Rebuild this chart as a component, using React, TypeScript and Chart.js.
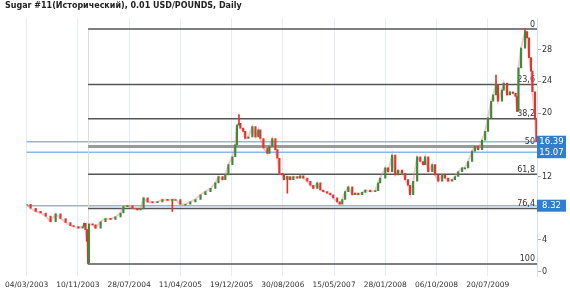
import React, { useEffect, useRef } from "react";
import { Chart, registerables } from "chart.js";

Chart.register(...registerables);

const days = [
  0, 14, 32, 49, 67, 84, 102, 119, 137, 154,
  165, 182, 197, 202, 207, 212, 216, 219, 232, 242,
  260, 277, 295, 312, 330, 340, 354, 372, 389, 400,
  411, 425, 442, 460, 477, 495, 512, 523, 540, 558,
  575, 593, 611, 628, 646, 663, 674, 688, 698, 709,
  723, 733, 739, 746, 751, 761, 768, 779, 793, 804,
  814, 821, 832, 846, 853, 863, 874, 881, 888, 898,
  904, 916, 926, 937, 951, 961, 972, 986, 997, 1007,
  1021, 1032, 1042, 1056, 1067, 1077, 1091, 1100, 1109, 1119,
  1130, 1144, 1154, 1165, 1179, 1190, 1207, 1225, 1235, 1242,
  1260, 1270, 1284, 1295, 1305, 1319, 1330, 1340, 1347, 1358,
  1372, 1383, 1393, 1400, 1411, 1425, 1435, 1446, 1460, 1470,
  1481, 1495, 1505, 1516, 1530, 1540, 1551, 1565, 1575, 1586,
  1600, 1611, 1621, 1632, 1639, 1649, 1656, 1670, 1676, 1688,
  1698, 1709, 1718, 1723, 1728, 1737, 1751, 1758, 1765, 1772,
  1777, 1786, 1791,
];

// closing prices at those bars
const closes = [
  8.5, 8.0, 7.6, 7.4, 7.0, 6.3, 7.3, 6.7, 6.2, 5.8,
  5.7, 5.5, 5.7, 6.1, 5.3, 3.8, 1.1, 6.0, 5.9, 5.5,
  6.3, 6.7, 6.6, 6.9, 7.4, 8.2, 8.3, 8.0, 7.8, 7.9,
  9.3, 8.8, 8.7, 8.8, 9.1, 9.0, 9.1, 9.1, 8.5, 8.5,
  8.8, 9.1, 9.7, 10.1, 10.5, 11.2, 12.0, 11.6, 12.2, 13.5,
  14.5, 16.0, 18.5, 18.7, 18.1, 17.7, 16.8, 17.0, 18.3, 17.0,
  17.9, 16.8, 15.6, 14.9, 15.8, 16.8, 15.4, 14.3, 12.4, 12.2,
  11.6, 12.0, 11.6, 12.0, 11.8, 12.1, 11.8, 11.4, 10.9, 10.5,
  11.2, 10.3, 10.1, 9.9, 9.7, 9.3, 8.8, 8.5, 9.1, 10.1,
  10.7, 9.7, 9.9, 9.7, 10.0, 10.3, 10.1, 10.2, 11.2, 11.8,
  13.1, 12.6, 14.7, 12.2, 12.8, 12.4, 11.6, 10.9, 9.7, 11.4,
  14.5, 13.9, 13.5, 14.5, 12.6, 13.5, 12.2, 11.4, 12.2, 11.8,
  11.4, 11.6, 12.0, 12.6, 13.1, 13.1, 13.9, 15.2, 15.8, 15.4,
  16.6, 17.7, 19.4, 21.5, 22.3, 23.6, 21.5, 22.9, 23.8, 22.3,
  22.7, 22.5, 22.1, 20.2, 25.7, 28.2, 30.3, 29.5, 27.0, 25.3,
  22.7, 19.2, 16.4,
];

// visible wick spikes
const spikeDays = [216, 512, 746, 916, 1649, 1751];
const spikeLows = [0.97, 7.6, 18.5, 9.9, 23.6, 29.5];
const spikeHighs = [3.8, 9.1, 19.8, 12.0, 24.8, 30.6];

const xTickDays = [0, 180, 360, 540, 720, 900, 1080, 1260, 1440, 1620];
const xTickLabels = [
  "04/03/2003", "10/11/2003", "28/07/2004", "11/04/2005", "19/12/2005",
  "30/08/2006", "15/05/2007", "28/01/2008", "06/10/2008", "20/07/2009",
];
const yTicks = [0, 4, 8, 12, 16, 20, 24, 28];

const fibLevels = [0, 23.6, 38.2, 50, 61.8, 76.4, 100];
const fibLabels = ["0", "23,6", "38,2", "50", "61,8", "76,4", "100"];
const fibHigh = 30.6;
const fibLow = 0.97;
const fibStartDay = 216;

const priceLines = [16.39, 15.07, 8.32];
const priceLabels = ["16.39", "15.07", "8.32"];

const TITLE = "Sugar #11(Исторический), 0.01 USD/POUNDS, Daily";
const UP = "#3d8a3d";
const DOWN = "#e2342c";

const opens = closes.map((c, i) => (i === 0 ? c : closes[i - 1]));
const bodyData = days.map((d, i) => ({
  x: d,
  y: [Math.min(opens[i], closes[i]), Math.max(opens[i], closes[i])],
}));
const bodyColors = closes.map((c, i) => (c >= opens[i] ? UP : DOWN));
const wickData = spikeDays.map((d, i) => ({ x: d, y: [spikeLows[i], spikeHighs[i]] }));
const pathData = days.map((d, i) => ({ x: d, y: closes[i] }));

const overlay = {
  id: "overlay",
  beforeDatasetsDraw(chart: any) {
    const { ctx, chartArea, scales } = chart;
    const x = scales.x;
    const y = scales.y;
    ctx.save();
    priceLines.forEach((v) => {
      const py = y.getPixelForValue(v);
      ctx.strokeStyle = "#8cb8e6";
      ctx.lineWidth = 1.5;
      ctx.beginPath();
      ctx.moveTo(chartArea.left, py);
      ctx.lineTo(chartArea.right, py);
      ctx.stroke();
    });
    const x0 = x.getPixelForValue(fibStartDay);
    ctx.strokeStyle = "#dedede";
    ctx.lineWidth = 1;
    ctx.beginPath();
    ctx.moveTo(Math.round(x0) + 0.5, y.getPixelForValue(fibHigh));
    ctx.lineTo(Math.round(x0) + 0.5, y.getPixelForValue(fibLow));
    ctx.stroke();
    ctx.font = "8px 'DejaVu Sans'";
    ctx.textAlign = "right";
    ctx.textBaseline = "alphabetic";
    fibLevels.forEach((lv, i) => {
      const v = fibHigh - ((fibHigh - fibLow) * lv) / 100;
      const py = y.getPixelForValue(v);
      ctx.strokeStyle = lv === 50 ? "#9a9a9a" : "#555";
      ctx.lineWidth = lv === 50 ? 3 : 1.5;
      ctx.beginPath();
      ctx.moveTo(x0, py);
      ctx.lineTo(chartArea.right, py);
      ctx.stroke();
      ctx.fillStyle = "#333";
      ctx.fillText(fibLabels[i], chartArea.right - 2, py - 2.5);
    });
    ctx.restore();
  },
  afterDraw(chart: any) {
    const { ctx, chartArea, scales } = chart;
    const y = scales.y;
    ctx.save();
    ctx.font = "8.5px 'DejaVu Sans'";
    ctx.textAlign = "center";
    ctx.textBaseline = "middle";
    priceLines.forEach((v) => {
      const py = y.getPixelForValue(v);
      ctx.fillStyle = "#2e7fd1";
      ctx.fillRect(chartArea.right, py - 6, 29, 12);
    });
    priceLines.forEach((v, i) => {
      const py = y.getPixelForValue(v);
      ctx.fillStyle = "#ffffff";
      ctx.fillText(priceLabels[i], chartArea.right + 14.5, py + 0.5);
    });
    ctx.font = "bold 8px 'DejaVu Sans'";
    ctx.textAlign = "left";
    ctx.fillStyle = "#222";
    ctx.fillText(TITLE, 5, 6);
    ctx.restore();
  },
};

export default function App() {
  const ref = useRef<HTMLCanvasElement>(null);
  useEffect(() => {
    document.body.style.margin = "0";
    const chart = new Chart(ref.current as HTMLCanvasElement, {
      type: "bar",
      data: {
        datasets: [
          {
            type: "line",
            data: pathData as any,
            borderColor: "rgba(235,130,130,0.45)",
            borderWidth: 2,
            pointRadius: 0,
            tension: 0,
            order: 3,
          } as any,
          {
            data: wickData as any,
            backgroundColor: DOWN,
            barThickness: 1,
            grouped: false,
            order: 2,
          } as any,
          {
            data: bodyData as any,
            backgroundColor: bodyColors,
            barThickness: 1.5,
            minBarLength: 1,
            grouped: false,
            order: 1,
          } as any,
        ],
      },
      options: {
        animation: false,
        responsive: false,
        maintainAspectRatio: false,
        layout: { padding: { left: 26, top: 18, right: 0, bottom: 0 } },
        plugins: {
          legend: { display: false },
          tooltip: { enabled: false },
          title: { display: false },
        },
        scales: {
          x: {
            type: "linear",
            min: 0,
            max: 1793,
            offset: false,
            grid: { color: "#e4edf6", drawTicks: false, offset: false },
            border: { display: false },
            ticks: {
              color: "#333",
              font: { family: "'DejaVu Sans'", size: 7.5 },
              padding: 5,
              maxRotation: 0,
              autoSkip: false,
              callback: (v: any) => {
                const i = xTickDays.indexOf(Number(v));
                return i >= 0 ? xTickLabels[i] : "";
              },
            },
            afterBuildTicks: (s: any) => {
              s.ticks = xTickDays.map((v) => ({ value: v }));
            },
            afterFit: (s: any) => {
              s.height = 16;
            },
          } as any,
          y: {
            position: "right",
            min: -0.55,
            max: 32,
            grid: { drawOnChartArea: false, drawTicks: true, tickLength: 4, color: "#aaa" },
            border: { display: true, color: "#d6e0ea" },
            ticks: {
              color: "#333",
              font: { family: "'DejaVu Sans'", size: 8 },
              padding: 1,
            },
            afterBuildTicks: (s: any) => {
              s.ticks = yTicks.map((v) => ({ value: v }));
            },
            afterFit: (s: any) => {
              s.width = 33;
            },
          } as any,
        },
      },
      plugins: [overlay],
    });
    return () => chart.destroy();
  }, []);
  return (
    <div style={{ width: 570, height: 292, background: "#fff" }}>
      <canvas ref={ref} width={570} height={292} style={{ display: "block" }} />
    </div>
  );
}
